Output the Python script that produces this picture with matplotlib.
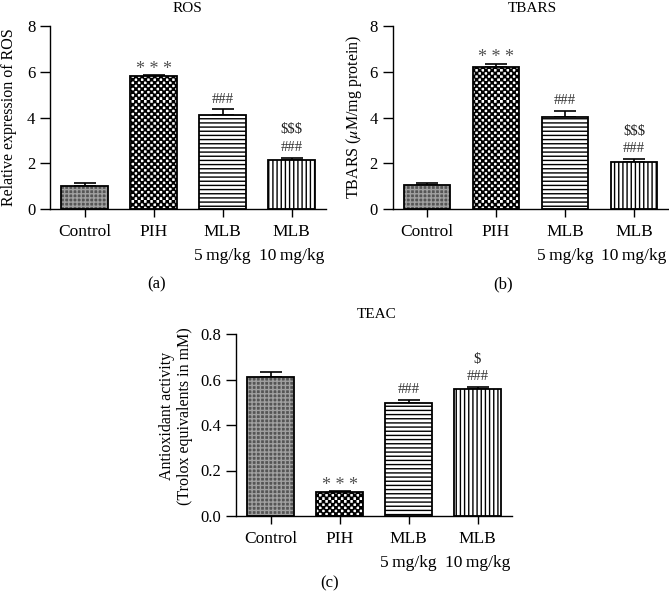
import warnings
import matplotlib
matplotlib.use("Agg")
import matplotlib.pyplot as plt
import matplotlib.hatch as mhatch
from matplotlib.path import Path
import numpy as np

warnings.filterwarnings('ignore', message='hatch must consist')

plt.rcParams['font.family'] = ['Liberation Serif', 'DejaVu Serif']
plt.rcParams['mathtext.fontset'] = 'stix'
plt.rcParams['hatch.linewidth'] = 1.0

# ---- data ----
categories = ['Control', 'PIH', 'MLB\n5\u2009mg/kg', 'MLB\n10\u2009mg/kg']

ros_mean = [1.02, 5.80, 4.09, 2.14]
ros_err = [0.10, 0.06, 0.26, 0.11]

tbars_mean = [1.06, 6.21, 4.03, 2.07]
tbars_err = [0.06, 0.15, 0.26, 0.10]

teac_mean = [0.611, 0.107, 0.495, 0.557]
teac_err = [0.023, 0.004, 0.015, 0.011]

ros_marks = ['', '* * *', '###', '$$$\n###']
tbars_marks = ['', '* * *', '###', '$$$\n###']
teac_marks = ['', '* * *', '###', '$\n###']

yticks_ab = [0, 2, 4, 6, 8]
yticks_c = [0.0, 0.2, 0.4, 0.6, 0.8]


# ---- a checkerboard hatch (filled squares) ----
class CheckerHatch(mhatch.HatchPatternBase):
    def __init__(self, hatch, density):
        self.n = 32
        self.on = 'c' in hatch
        self.cells = [(i, j) for i in range(self.n) for j in range(self.n)
                      if (i + j) % 2 == 0]
        self.num_vertices = 5 * len(self.cells) if self.on else 0

    def set_vertices_and_codes(self, vertices, codes):
        s = 1.0 / self.n
        sh = 0.004
        k = 0
        for i, j in self.cells:
            x0, y0 = i * s + sh, j * s + sh
            x1, y1 = (i + 1) * s - sh, (j + 1) * s - sh
            vertices[k:k + 5] = [(x0, y0), (x1, y0), (x1, y1), (x0, y1), (x0, y0)]
            codes[k:k + 5] = [Path.MOVETO, Path.LINETO, Path.LINETO,
                              Path.LINETO, Path.CLOSEPOLY]
            k += 5


mhatch._hatch_types.append(CheckerHatch)

# ---- styles ----
face = ['#555555', 'white', 'white', 'white']
hatches = ['++++', 'c', '----', '||||']
hcolors = ['#a0a0a0', 'black', 'black', 'black']

W, H = 669, 601
fig = plt.figure(figsize=(W / 100, H / 100), dpi=100)


def px_axes(left, right, top, bottom):
    return fig.add_axes([left / W, 1 - bottom / H, (right - left) / W, (bottom - top) / H])


def panel(ax, means, errs, marks, yticks, ylim, tickfmt):
    x = np.arange(len(means))
    for i in range(len(means)):
        ax.bar(x[i], means[i], 0.68, color=face[i], edgecolor=hcolors[i],
               hatch=hatches[i], linewidth=0, zorder=2)
        ax.bar(x[i], means[i], 0.68, fill=False, edgecolor='black',
               linewidth=1.3, zorder=3)
    ax.errorbar(x, means, yerr=[np.zeros(len(errs)), errs], fmt='none',
                ecolor='black', elinewidth=1.2, capsize=8, capthick=1.2, zorder=1)
    for i, m in enumerate(marks):
        if not m:
            continue
        lines = m.split('\n')
        top = means[i] + errs[i]
        for j, t in enumerate(reversed(lines)):
            if t.startswith('*'):
                off, col, fs = 4, '#505050', 13
            else:
                off, col, fs = 7.5 + 12.5 * j, '#333333' if t.startswith('#') else '#222222', 10.5
            ax.annotate(t, (x[i], top), xytext=(0, off), textcoords='offset points',
                        ha='center', va='center', fontsize=fs, color=col)
    ax.set_xlim(-0.5, len(means) - 0.5)
    ax.set_ylim(*ylim)
    ax.set_yticks(yticks)
    ax.set_yticklabels([tickfmt.format(v) for v in yticks])
    ax.set_xticks(x)
    ax.set_xticklabels(categories, linespacing=1.65)
    for s in ['top', 'right']:
        ax.spines[s].set_visible(False)
    for s in ['left', 'bottom']:
        ax.spines[s].set_linewidth(1.0)
    ax.tick_params(axis='y', length=7, width=1.0, pad=3.5, labelsize=12)
    ax.tick_params(axis='x', length=6, width=1.0, pad=5, labelsize=12.5)


ax1 = px_axes(50, 326, 26, 209)
panel(ax1, ros_mean, ros_err, ros_marks, yticks_ab, (0, 8), '{:.0f}')
ax2 = px_axes(392.5, 668.5, 26, 209)
panel(ax2, tbars_mean, tbars_err, tbars_marks, yticks_ab, (0, 8), '{:.0f}')
ax3 = px_axes(236, 512, 334, 516)
panel(ax3, teac_mean, teac_err, teac_marks, yticks_c, (0, 0.8), '{:.1f}')


def ftext(x, y, s, **kw):
    fig.text(x / W, 1 - y / H, s, ha='center', va='center', **kw)


ftext(187, 8, 'ROS', fontsize=11)
ftext(532, 8, 'TBARS', fontsize=11)
ftext(377, 315, 'TEAC', fontsize=11)

ftext(9, 117, 'Relative expression of ROS', fontsize=11.5, rotation=90)
ftext(354, 117, r'TBARS ($\mu$M/mg protein)', fontsize=11.5, rotation=90)
ftext(176, 416, 'Antioxidant activity\n(Trolox equivalents in mM)', fontsize=11.5,
      rotation=90, linespacing=1.1)

ftext(157, 284, '(a)', fontsize=12)
ftext(503, 284, '(b)', fontsize=12)
ftext(330, 583, '(c)', fontsize=12)

fig.savefig('out.png', dpi=100)
